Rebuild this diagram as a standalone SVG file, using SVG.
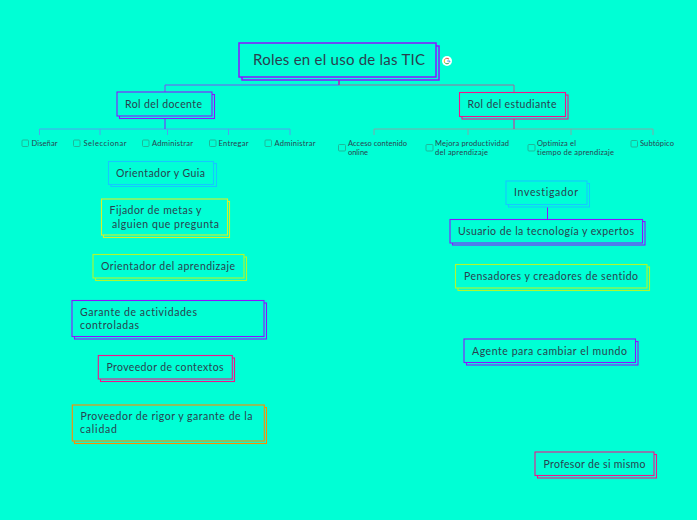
<svg xmlns="http://www.w3.org/2000/svg" width="697" height="520" viewBox="0 0 697 520">
<style>
text{font-family:"Lato","Open Sans",sans-serif;fill:#2a3f4f;font-variant-ligatures:none}
.t{font-size:10.5px}
.s{font-size:7.5px}
.r{font-size:15px}
.b{fill:#00ffd5;stroke-width:1.1}
.p{stroke:#8c14ff}.k{stroke:#f0148c}.c{stroke:#14c8ff}.y{stroke:#d6f02a}.l{stroke:#b0f82c}.o{stroke:#ff8a00}
.cb{fill:none;stroke:#1cb99a;stroke-width:1}
.w{fill:none;stroke-width:1}
</style>
<rect width="697" height="520" fill="#00ffd5"/>
<g id="connectors" class="w">
<path d="M339 80V85H165V92" stroke="#7a50f0" class="w"/>
<path d="M339 80V85H514V92" stroke="#a0689a" class="w"/>
<path d="M339 80V85" stroke="#a020c0" class="w"/>
<path d="M39.500 135V129H290V135M100 135V129M167.500 135V129M228.500 135V129" stroke="#50a0ee" class="w"/>
<path d="M165 116V129" stroke="#8c14ff" class="w"/>
<path d="M374 135V129H653V135M468 135V129M571 135V129" stroke="#80a8a8" class="w"/>
<path d="M514 116V129" stroke="#f0148c" class="w"/>
<path d="M547.500 207V219" stroke="#8c14ff" class="w"/>
</g>
<g id="root">
<rect class="b p" x="242" y="46" width="197" height="34" stroke-width="1.500" style="stroke-width:1.500"/>
<rect class="b p" x="239" y="43" width="197" height="34" style="stroke-width:1.500"/>
<text class="r" x="253" y="65" textLength="172">Roles en el uso de las TIC</text>
</g>
<g id="google-icon">
<circle cx="447" cy="61" r="5" fill="#fff"/>
<path d="M449 59.200A2.800 2.800 0 0 0 444.600 59.600" fill="none" stroke="#ea4335" stroke-width="1"/>
<path d="M444.600 59.600A2.800 2.800 0 0 0 444.600 62.400" fill="none" stroke="#fbbc05" stroke-width="1"/>
<path d="M444.600 62.400A2.800 2.800 0 0 0 449.300 62.600" fill="none" stroke="#34a853" stroke-width="1"/>
<path d="M447.200 61H449.800V62" fill="none" stroke="#4285f4" stroke-width="1"/>
</g>
<g id="rol-docente">
<rect class="b p" x="119.500" y="94.500" width="95" height="24"/><rect class="b p" x="117" y="92" width="95" height="24"/>
<text class="t" x="125" y="108" textLength="77">Rol del docente</text>
</g>
<g id="rol-estudiante">
<rect class="b k" x="462" y="95" width="106" height="24"/><rect class="b k" x="459.500" y="92.500" width="106" height="24"/>
<text class="t" x="467.500" y="108" textLength="89">Rol del estudiante</text>
</g>
<g id="sub-disenar"><rect class="cb" x="22" y="140" width="6.500" height="6.500" rx="1"/><text class="s" x="31.500" y="146" textLength="26">Diseñar</text></g>
<g id="sub-seleccionar"><rect class="cb" x="73.500" y="140" width="6.500" height="6.500" rx="1"/><text class="s" x="83.500" y="146" textLength="43">Seleccionar</text></g>
<g id="sub-administrar1"><rect class="cb" x="142.500" y="140" width="6.500" height="6.500" rx="1"/><text class="s" x="152" y="146" textLength="41">Administrar</text></g>
<g id="sub-entregar"><rect class="cb" x="209.500" y="140" width="6.500" height="6.500" rx="1"/><text class="s" x="218.500" y="146" textLength="30">Entregar</text></g>
<g id="sub-administrar2"><rect class="cb" x="265" y="140" width="6.500" height="6.500" rx="1"/><text class="s" x="274.500" y="146" textLength="41">Administrar</text></g>
<g id="sub-acceso"><rect class="cb" x="338.500" y="144.500" width="7" height="6.500" rx="1"/><text class="s" x="348" y="146" textLength="59">Acceso contenido</text><text class="s" x="348" y="155" textLength="20">online</text></g>
<g id="sub-mejora"><rect class="cb" x="426" y="144.500" width="7" height="6.500" rx="1"/><text class="s" x="435" y="146" textLength="74">Mejora productividad</text><text class="s" x="435" y="155" textLength="53">del aprendizaje</text></g>
<g id="sub-optimiza"><rect class="cb" x="528" y="144.500" width="7" height="6.500" rx="1"/><text class="s" x="537" y="146" textLength="39">Optimiza el</text><text class="s" x="537" y="155" textLength="77">tiempo de aprendizaje</text></g>
<g id="sub-subtopico"><rect class="cb" x="631" y="140.500" width="6.500" height="6.500" rx="1"/><text class="s" x="640" y="146" textLength="34">Subtópico</text></g>
<g id="orientador-guia"><rect class="b c" x="111" y="163.500" width="105.500" height="23"/><rect class="b c" x="108.500" y="161.500" width="105" height="23"/><text class="t" x="116" y="177" textLength="89">Orientador y Guia</text></g>
<g id="fijador"><rect class="b y" x="103.500" y="201.500" width="126" height="36"/><rect class="b y" x="101.500" y="199" width="126" height="36"/><text class="t" x="109.500" y="214" textLength="92">Fijador de metas y</text><text class="t" x="112" y="228" textLength="107">alguien que pregunta</text></g>
<g id="orientador-aprendizaje"><rect class="b l" x="95.500" y="257" width="151" height="23.500"/><rect class="b l" x="93" y="254.500" width="151" height="23.500"/><text class="t" x="101" y="270" textLength="134">Orientador del aprendizaje</text></g>
<g id="garante"><rect class="b p" x="74.500" y="303" width="192" height="36"/><rect class="b p" x="72" y="300.500" width="192" height="36"/><text class="t" x="80" y="316" textLength="117">Garante de actividades</text><text class="t" x="80" y="329" textLength="59">controladas</text></g>
<g id="proveedor-contextos"><rect class="b k" x="100.500" y="358" width="134" height="23.500"/><rect class="b k" x="98.300" y="355.500" width="134" height="23.500"/><text class="t" x="106.500" y="371" textLength="117">Proveedor de contextos</text></g>
<g id="proveedor-rigor"><rect class="b o" x="74.500" y="407.500" width="192" height="36"/><rect class="b o" x="72.300" y="405" width="192" height="36"/><text class="t" x="80.500" y="420" textLength="172">Proveedor de rigor y garante de la</text><text class="t" x="80" y="433" textLength="37">calidad</text></g>
<g id="investigador"><rect class="b c" x="508.500" y="183.500" width="81" height="23.500"/><rect class="b c" x="506" y="181" width="81" height="23.500"/><text class="t" x="514" y="196" textLength="64">Investigador</text></g>
<g id="usuario"><rect class="b p" x="452.500" y="221.500" width="192.500" height="23.500"/><rect class="b p" x="450" y="219.500" width="192.500" height="23.500"/><text class="t" x="458" y="235" textLength="176">Usuario de la tecnología y expertos</text></g>
<g id="pensadores"><rect class="b l" x="458" y="267" width="191.500" height="23.500"/><rect class="b l" x="455.500" y="264.500" width="191.500" height="23.500"/><text class="t" x="464" y="280" textLength="174">Pensadores y creadores de sentido</text></g>
<g id="agente"><rect class="b p" x="466.500" y="341.500" width="171.500" height="23.500"/><rect class="b p" x="464" y="339" width="171.500" height="23.500"/><text class="t" x="472" y="355" textLength="155">Agente para cambiar el mundo</text></g>
<g id="profesor"><rect class="b k" x="537.500" y="454.500" width="119" height="23.500"/><rect class="b k" x="535" y="452" width="119" height="23.500"/><text class="t" x="543.500" y="468" textLength="102">Profesor de si mismo</text></g>
</svg>
